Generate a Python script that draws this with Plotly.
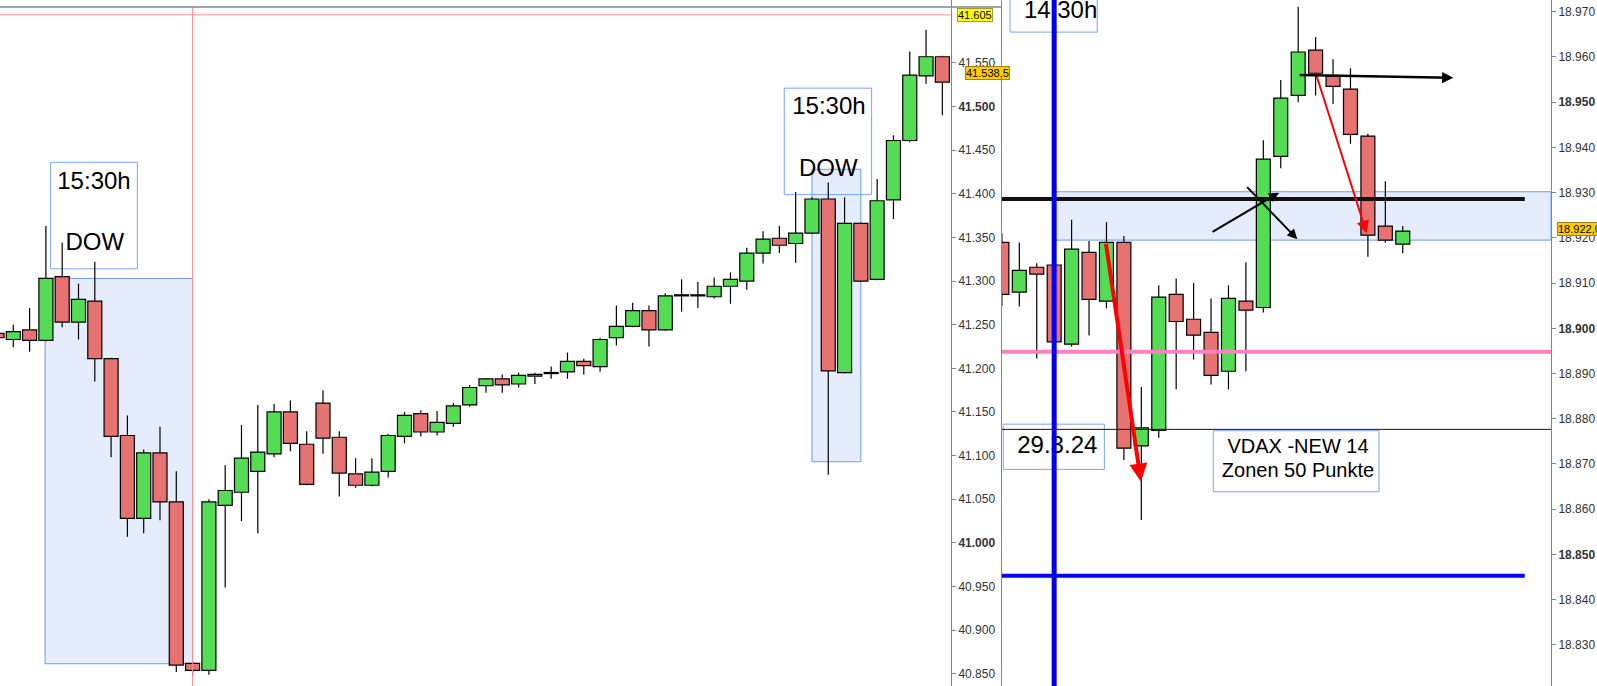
import plotly.graph_objects as go

# ---------------- DATA ----------------
# Left panel: DOW candles (bar index -1 .. 57)
dow_open = [41240, 41233, 41244, 41232, 41305, 41253, 41277, 41211, 41123, 41028,
            41103, 41047, 40862, 40854, 41043, 41058, 41082, 41102, 41150, 41113,
            41160, 41121, 41079, 41066, 41082, 41122, 41148, 41127, 41137, 41158,
            41180, 41188, 41182, 41191, 41194, 41196, 41208, 41202, 41235, 41248,
            41266, 41244, 41283, 41283, 41282, 41294, 41300, 41332, 41349, 41343,
            41355, 41394, 41195, 41366, 41302, 41393, 41461, 41535, 41557]
dow_high = [41243, 41250, 41269, 41363, 41344, 41297, 41322, 41212, 41146, 41107,
            41133, 41082, 40864, 41050, 41089, 41135, 41158, 41159, 41163, 41128,
            41175, 41128, 41097, 41097, 41125, 41150, 41152, 41151, 41160, 41181,
            41189, 41193, 41195, 41195, 41202, 41218, 41211, 41235, 41272, 41275,
            41272, 41286, 41302, 41299, 41304, 41310, 41338, 41357, 41363, 41402,
            41396, 41413, 41396, 41367, 41417, 41467, 41563, 41588, 41558]
dow_low = [41232, 41224, 41219, 41231, 41247, 41233, 41185, 41098, 41007, 41011,
           41026, 40852, 40848, 40849, 40949, 41025, 41011, 41098, 41105, 41066,
           41102, 41053, 41063, 41065, 41075, 41114, 41122, 41123, 41133, 41156,
           41172, 41172, 41178, 41182, 41188, 41188, 41193, 41196, 41226, 41247,
           41225, 41243, 41265, 41269, 41280, 41274, 41290, 41320, 41332, 41321,
           41354, 41078, 41194, 41299, 41301, 41371, 41459, 41526, 41490]
dow_close = [41235, 41242, 41232, 41303, 41253, 41279, 41211, 41122, 41028, 41103,
             41047, 40860, 40854, 41047, 41060, 41097, 41104, 41150, 41114, 41067,
             41120, 41080, 41066, 41081, 41123, 41146, 41127, 41138, 41157, 41178,
             41188, 41181, 41192, 41193, 41194, 41208, 41203, 41233, 41248, 41266,
             41244, 41283, 41283, 41283, 41294, 41302, 41332, 41348, 41341, 41355,
             41394, 41197, 41366, 41300, 41392, 41461, 41536, 41557, 41528]

# Right panel: DAX candles (bar index -1 .. 22)
dax_open = [18919, 18908, 18913.5, 18914, 18896.5, 18916.8, 18906, 18919, 18874, 18877.4,
            18907.5, 18902, 18899.1, 18890.5, 18906, 18904.6, 18938, 18951.5, 18961.5,
            18955.8, 18952.9, 18942.5, 18922.6, 18918.6]
dax_high = [18921, 18919, 18914.4, 18914.5, 18924, 18919.3, 18923.5, 18920.4, 18887, 18909.5,
            18911, 18910, 18906.6, 18909.5, 18914.6, 18941.6, 18954.9, 18971.1, 18964.4,
            18959.5, 18957.5, 18943, 18932.5, 18922.6]
dax_low = [18905, 18904.8, 18893.3, 18896.5, 18896, 18898.4, 18904.4, 18870.9, 18857.6, 18875.8,
           18886.5, 18893.1, 18887.6, 18886.5, 18890.5, 18903.5, 18935.4, 18950, 18951.5,
           18949.6, 18940.8, 18915.8, 18918.9, 18916.6]
dax_close = [18907.5, 18912.8, 18912, 18897, 18917.5, 18906.4, 18919, 18873.5, 18878, 18906.9,
             18901.5, 18898.5, 18889.6, 18906.6, 18904, 18937.4, 18950.9, 18961.1, 18956.4,
             18953.5, 18942.9, 18920.6, 18919.5, 18921.5]

dow_ticks = [40850, 40900, 40950, 41000, 41050, 41100, 41150, 41200, 41250, 41300,
             41350, 41400, 41450, 41500, 41550]
dow_ticktext = ['40.850', '40.900', '40.950', '<b>41.000</b>', '41.050', '41.100', '41.150',
                '41.200', '41.250', '41.300', '41.350', '41.400', '41.450', '<b>41.500</b>', '41.550']
dax_ticks = [18830, 18840, 18850, 18860, 18870, 18880, 18890, 18900, 18910, 18920,
             18930, 18940, 18950, 18960, 18970]
dax_ticktext = ['18.830', '18.840', '<b>18.850</b>', '18.860', '18.870', '18.880', '18.890',
                '<b>18.900</b>', '18.910', '18.920', '18.930', '18.940', '<b>18.950</b>',
                '18.960', '18.970']

# horizontal levels
dow_level_red = 41605
dow_last = 41538.5
dax_last = 18922.0
dax_level_black = 18928.6
dax_level_pink = 18894.8
dax_level_thin = 18877.65
dax_level_blue = 18845.3
dax_zone = (18919.5, 18930.2)

# ---------------- FIGURE ----------------
W, H = 1597, 686
GREEN = '#55dc55'
RED = '#e67272'
FONT = 'Liberation Sans, Arial, sans-serif'

fig = go.Figure()


def add_candles(o, h, l, c, xa, ya, width, min_body):
    idx = list(range(-1, len(o) - 1))
    base = [min(a, b) for a, b in zip(o, c)]
    size = [max(abs(b - a), min_body) for a, b in zip(o, c)]
    cols = [GREEN if b >= a else RED for a, b in zip(o, c)]
    wx, wy = [], []
    for i, oo, hh, ll, cc in zip(idx, o, h, l, c):
        top, bot = max(oo, cc), min(oo, cc)
        if hh > top:
            wx += [i, i, None]
            wy += [top, hh, None]
        if ll < bot:
            wx += [i, i, None]
            wy += [bot, ll, None]
    fig.add_trace(go.Bar(x=idx, y=size, base=base, width=width, xaxis=xa, yaxis=ya,
                         marker=dict(color=cols, line=dict(color='black', width=1.2)),
                         hoverinfo='skip'))
    fig.add_trace(go.Scatter(x=wx, y=wy, mode='lines', xaxis=xa, yaxis=ya,
                             line=dict(color='black', width=1.2), hoverinfo='skip'))


add_candles(dow_open, dow_high, dow_low, dow_close, 'x', 'y', 0.86, 1.2)
add_candles(dax_open, dax_high, dax_low, dax_close, 'x2', 'y2', 0.80, 0.25)

# text labels (box contents)
fig.add_trace(go.Scatter(
    x=[4.95, 5.0, 50.04, 50.0], y=[41412.6, 41342.7, 41498.5, 41427.5],
    text=['15:30h', 'DOW', '15:30h', 'DOW'], mode='text', xaxis='x', yaxis='y',
    textfont=dict(size=24, family=FONT, color='black'), hoverinfo='skip'))
fig.add_trace(go.Scatter(
    x=[2.37, 2.18], y=[18969.9, 18873.8], text=['14:30h', '29.3.24'],
    mode='text', xaxis='x2', yaxis='y2',
    textfont=dict(size=24, family=FONT, color='black'), hoverinfo='skip'))
fig.add_trace(go.Scatter(
    x=[15.99, 15.99], y=[18873.6, 18868.3], text=['VDAX -NEW 14', 'Zonen 50 Punkte'],
    mode='text', xaxis='x2', yaxis='y2',
    textfont=dict(size=20, family=FONT, color='black'), hoverinfo='skip'))

X1R = [-0.816, 57.53]
X2R = [-0.993, 30.505]
Y1R = [40836, 41622]
Y2R = [18820.9, 18972.6]

BOXLINE = '#79a4f2'
ZONEFILL = '#e5ecfc'
ZONELINE = '#6d9cf2'
shapes = [
    # left panel zones
    dict(type='rect', xref='x', yref='y', x0=1.95, x1=11, y0=40861.5, y1=41303,
         fillcolor=ZONEFILL, line=dict(color=ZONELINE, width=1), layer='below'),
    dict(type='rect', xref='x', yref='y', x0=49, x1=52, y0=41093, y1=41428,
         fillcolor=ZONEFILL, line=dict(color=ZONELINE, width=1), layer='below'),
    # text boxes left
    dict(type='rect', xref='x', yref='y', x0=2.29, x1=7.61, y0=41314, y1=41436,
         line=dict(color=BOXLINE, width=1), layer='below'),
    dict(type='rect', xref='x', yref='y', x0=47.3, x1=52.66, y0=41399, y1=41521,
         line=dict(color=BOXLINE, width=1), layer='below'),
    # red crosshair
    dict(type='line', xref='x domain', yref='y', x0=0, x1=1, y0=dow_level_red, y1=dow_level_red,
         line=dict(color='#ff8f8f', width=1), layer='above'),
    dict(type='line', xref='x', yref='y', x0=11, x1=11, y0=Y1R[0], y1=41614,
         line=dict(color='#ff8f8f', width=1), layer='above'),
    # top frame line
    dict(type='line', xref='paper', yref='paper', x0=0, x1=1002 / W, y0=1 - 7 / H, y1=1 - 7 / H,
         line=dict(color='#7b8a8f', width=1.5), layer='above'),
    # right panel zone
    dict(type='rect', xref='x2', yref='y2', x0=2, x1=X2R[1], y0=dax_zone[0], y1=dax_zone[1],
         fillcolor=ZONEFILL, line=dict(color=ZONELINE, width=1), layer='below'),
    # text boxes right
    dict(type='rect', xref='x2', yref='y2', x0=-0.53, x1=4.47, y0=18965.5, y1=18975,
         line=dict(color=BOXLINE, width=1), layer='below'),
    dict(type='rect', xref='x2', yref='y2', x0=-0.92, x1=4.88, y0=18868.8, y1=18878.8,
         line=dict(color=BOXLINE, width=1), layer='below'),
    dict(type='rect', xref='x2', yref='y2', x0=11.13, x1=20.64, y0=18863.85, y1=18877.35,
         line=dict(color=BOXLINE, width=1), layer='below'),
    # horizontal levels
    dict(type='line', xref='x2', yref='y2', x0=X2R[0], x1=29, y0=dax_level_black, y1=dax_level_black,
         line=dict(color='#111111', width=4), layer='above'),
    dict(type='line', xref='x2', yref='y2', x0=X2R[0], x1=X2R[1], y0=dax_level_pink, y1=dax_level_pink,
         line=dict(color='#ff80c4', width=4), layer='above'),
    dict(type='line', xref='x2', yref='y2', x0=X2R[0], x1=X2R[1], y0=dax_level_thin, y1=dax_level_thin,
         line=dict(color='#111111', width=1), layer='above'),
    dict(type='line', xref='x2', yref='y2', x0=X2R[0], x1=29, y0=dax_level_blue, y1=dax_level_blue,
         line=dict(color='#0000ff', width=4), layer='above'),
    # blue vertical 14:30
    dict(type='line', xref='x2', yref='y2 domain', x0=2, x1=2, y0=0, y1=1,
         line=dict(color='#0000ee', width=5), layer='above'),
]

annotations = [
    dict(x=1, xref='x domain', y=dow_level_red, yref='y', text='41.605', showarrow=False,
         xanchor='left', xshift=6, bgcolor='#ffff00', bordercolor='#9a9a40', borderwidth=1,
         borderpad=0, font=dict(size=11, family=FONT, color='black')),
    dict(x=1, xref='x domain', y=dow_last, yref='y', text='41.538,5', showarrow=False,
         xanchor='left', xshift=14, bgcolor='#ffcc00', bordercolor='#a08020', borderwidth=1,
         borderpad=0, font=dict(size=11, family=FONT, color='black')),
    dict(x=1, xref='x2 domain', y=dax_last, yref='y2', text='18.922,0', showarrow=False,
         xanchor='left', xshift=6, bgcolor='#ffcc00', bordercolor='#a08020', borderwidth=1,
         borderpad=0, font=dict(size=11, family=FONT, color='black')),
]

# arrows on the right panel: (start_x, start_y, tip_x, tip_y, color, width, headsize)
arrows = [
    (4.96, 18919, 6.98, 18866.1, '#ff0000', 4, 0.9),
    (17.0, 18956.5, 19.93, 18921, '#ff0000', 2, 1.25),
    (16.0, 18956, 24.9, 18955.4, '#000000', 2.5, 0.9),
    (11.0, 18921.15, 14.9, 18930, '#000000', 2, 1.0),
    (12.99, 18931.55, 15.95, 18919.7, '#000000', 2, 1.0),
]
for sx, sy, tx, ty, col, w, hs in arrows:
    annotations.append(dict(x=tx, y=ty, ax=sx, ay=sy, xref='x2', yref='y2', axref='x2', ayref='y2',
                            text='', showarrow=True, arrowhead=2, arrowsize=hs, arrowwidth=w,
                            arrowcolor=col, standoff=0))

axis_common = dict(showgrid=False, zeroline=False)
fig.update_layout(
    width=W, height=H, margin=dict(l=0, r=0, t=0, b=0),
    paper_bgcolor='white', plot_bgcolor='white', showlegend=False,
    barmode='overlay',
    xaxis=dict(domain=[0, 951 / W], range=X1R, visible=False, anchor='y', **axis_common),
    yaxis=dict(domain=[0, 1], range=Y1R, side='right', anchor='x', showline=True,
               linecolor='#7b8a8f', linewidth=1, ticks='outside', ticklen=4, tickcolor='#7b8a8f',
               tickvals=dow_ticks, ticktext=dow_ticktext,
               tickfont=dict(size=12, family=FONT, color='#333333'), **axis_common),
    xaxis2=dict(domain=[1002 / W, 1551 / W], range=X2R, visible=False, anchor='y2', **axis_common),
    yaxis2=dict(domain=[0, 1], range=Y2R, side='right', anchor='x2', showline=True, mirror=True,
                linecolor='#7b8a8f', linewidth=1, ticks='outside', ticklen=4, tickcolor='#7b8a8f',
                tickvals=dax_ticks, ticktext=dax_ticktext,
                tickfont=dict(size=12, family=FONT, color='#333333'), **axis_common),
    shapes=shapes,
    annotations=annotations,
)

fig.write_html("out.html", config={'displayModeBar': False},
               post_script="document.body.style.margin='0px';document.body.style.overflow='hidden';")
